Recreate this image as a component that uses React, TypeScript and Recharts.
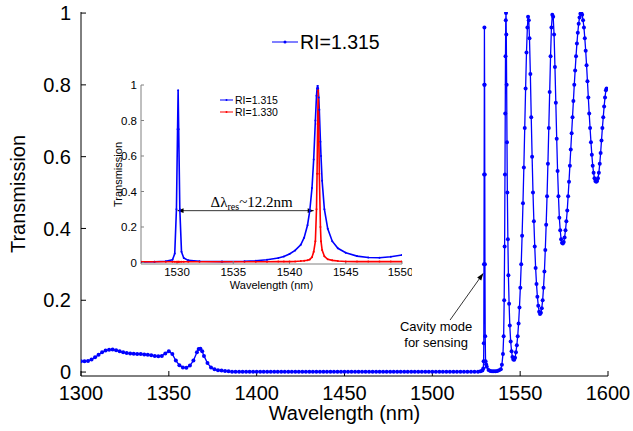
import React from "react";
import { LineChart, Line, XAxis, YAxis, Legend, ReferenceLine } from "recharts";

// main spectrum, RI = 1.315
const mainWavelength = [
  1300, 1302, 1304, 1306, 1308, 1310, 1312, 1314, 1316, 1318,
  1320, 1322, 1324, 1326, 1328, 1330, 1332, 1334, 1336, 1338,
  1340, 1342, 1344, 1346, 1348, 1350, 1352, 1354, 1356, 1358,
  1360, 1362, 1364, 1366, 1367, 1368, 1369, 1370, 1372, 1374,
  1376, 1378, 1380, 1382, 1384, 1386,
  1388, 1390, 1392, 1394, 1396, 1398, 1400, 1402, 1404, 1406,
  1408, 1410, 1412, 1414, 1416, 1418, 1420, 1422, 1424, 1426,
  1428, 1430, 1432, 1434, 1436, 1438, 1440, 1442, 1444, 1446,
  1448, 1450, 1452, 1454, 1456, 1458, 1460, 1462, 1464, 1466,
  1468, 1470, 1472, 1474, 1476, 1478, 1480, 1482, 1484, 1486,
  1488, 1490, 1492, 1494, 1496, 1498, 1500, 1502, 1504, 1506,
  1508, 1510, 1512, 1514, 1516, 1518, 1520, 1522, 1524, 1526,
  1527.5, 1528.5, 1529, 1529.2, 1529.3, 1529.4, 1529.5, 1529.6, 1529.65, 1529.75,
  1529.85, 1529.95, 1530.1, 1530.3, 1530.6, 1531, 1532, 1533, 1534, 1535,
  1536, 1537, 1538, 1539, 1539.6, 1540.2, 1540.6, 1540.9, 1541.15, 1541.35,
  1541.5, 1541.65, 1541.8, 1541.95, 1542.1, 1542.3, 1542.5, 1542.7, 1543, 1543.3,
  1543.7, 1544.1, 1544.6, 1545.1, 1545.6, 1546.1, 1546.6, 1547.1, 1547.6, 1548.1,
  1548.6, 1549.1, 1549.6, 1550.1, 1550.6, 1551.1, 1551.6, 1552.1, 1552.6, 1553.1,
  1553.6, 1554.1, 1554.5, 1554.9, 1555.3, 1555.8, 1556.3, 1556.8, 1557.3, 1557.8,
  1558.3, 1558.8, 1559.3, 1559.8, 1560.3, 1560.8, 1561.3, 1561.8, 1562.3, 1562.8,
  1563.3, 1563.8, 1564.3, 1564.8, 1565.3, 1565.8, 1566.3, 1566.8, 1567.3, 1567.8,
  1568.3, 1568.8, 1569.3, 1569.8, 1570.3, 1570.8, 1571.3, 1571.8, 1572.3, 1572.8,
  1573.3, 1573.8, 1574.3, 1574.8, 1575.3, 1575.8, 1576.3, 1576.8, 1577.3, 1577.8,
  1578.3, 1578.8, 1579.3, 1579.8, 1580.3, 1580.8, 1581.3, 1581.8, 1582.3, 1582.8,
  1583.3, 1583.8, 1584.3, 1584.8, 1585.3, 1585.8, 1586.3, 1586.8, 1587.3, 1587.8,
  1588.3, 1588.8, 1589.3, 1589.8, 1590.3, 1590.8, 1591.3, 1591.8, 1592.3, 1592.8,
  1593.3, 1593.8, 1594.3, 1594.8, 1595.3, 1595.8, 1596.3, 1596.8, 1597.3, 1597.8,
  1598.3, 1598.8, 1599.2,
];
const mainTransmission = [
  0.030, 0.030, 0.031, 0.035, 0.041, 0.048, 0.055, 0.060, 0.062, 0.063,
  0.061, 0.058, 0.055, 0.053, 0.052, 0.051, 0.050, 0.050, 0.049, 0.048,
  0.047, 0.045, 0.044, 0.045, 0.052, 0.058, 0.050, 0.032, 0.019, 0.013,
  0.012, 0.018, 0.032, 0.055, 0.064, 0.065, 0.058, 0.045, 0.025, 0.013,
  0.008, 0.005, 0.004, 0.003, 0.002, 0.001,
  0.001, 0.001, 0.001, 0.001, 0.001, 0.001, 0.001, 0.001, 0.001, 0.001,
  0.001, 0.001, 0.001, 0.001, 0.001, 0.001, 0.001, 0.001, 0.001, 0.001,
  0.001, 0.001, 0.001, 0.001, 0.001, 0.001, 0.001, 0.001, 0.001, 0.001,
  0.001, 0.001, 0.001, 0.001, 0.001, 0.001, 0.001, 0.001, 0.001, 0.001,
  0.001, 0.001, 0.001, 0.001, 0.001, 0.001, 0.001, 0.001, 0.001, 0.001,
  0.001, 0.001, 0.001, 0.001, 0.001, 0.001, 0.001, 0.001, 0.001, 0.001,
  0.001, 0.001, 0.001, 0.001, 0.001, 0.001, 0.001, 0.001, 0.001, 0.001,
  0.002, 0.004, 0.010, 0.030, 0.080, 0.300, 0.550, 0.800, 0.960, 0.800,
  0.550, 0.300, 0.100, 0.030, 0.022, 0.015, 0.006, 0.003, 0.002, 0.002,
  0.002, 0.003, 0.005, 0.008, 0.020, 0.050, 0.100, 0.200, 0.350, 0.550,
  0.720, 0.880, 0.980, 1.000, 0.940, 0.800, 0.640, 0.500, 0.370, 0.270,
  0.190, 0.130, 0.085, 0.058, 0.042, 0.035, 0.034, 0.040, 0.055, 0.075,
  0.100, 0.135, 0.180, 0.235, 0.300, 0.380, 0.470, 0.570, 0.680, 0.790,
  0.890, 0.960, 0.990, 0.980, 0.930, 0.830, 0.710, 0.600, 0.500, 0.420,
  0.350, 0.290, 0.245, 0.210, 0.185, 0.168, 0.162, 0.165, 0.178, 0.200,
  0.235, 0.280, 0.340, 0.410, 0.490, 0.580, 0.680, 0.780, 0.880, 0.960,
  0.995, 0.990, 0.940, 0.850, 0.750, 0.650, 0.560, 0.490, 0.430, 0.395,
  0.370, 0.360, 0.358, 0.362, 0.375, 0.395, 0.420, 0.450, 0.490, 0.530,
  0.575, 0.620, 0.665, 0.710, 0.755, 0.800, 0.840, 0.880, 0.915, 0.945,
  0.970, 0.988, 0.998, 1.000, 0.995, 0.980, 0.960, 0.930, 0.895, 0.855,
  0.810, 0.765, 0.720, 0.680, 0.640, 0.605, 0.575, 0.555, 0.540, 0.532,
  0.530, 0.532, 0.540, 0.555, 0.580, 0.610, 0.645, 0.680, 0.710, 0.740,
  0.765, 0.785, 0.790,
];

// inset, zoom around the sensing mode
const insetWavelength = [
  1526.8, 1528, 1529, 1529.6, 1529.8, 1529.95, 1530.05, 1530.1, 1530.15, 1530.25,
  1530.4, 1530.6, 1531, 1532, 1534, 1536, 1537, 1538, 1539, 1539.5,
  1540, 1540.5, 1541, 1541.3, 1541.6, 1541.8, 1542, 1542.15, 1542.3, 1542.4,
  1542.45, 1542.5, 1542.55, 1542.6, 1542.65, 1542.75, 1542.8, 1542.9, 1543.1, 1543.4,
  1543.8, 1544.3, 1545, 1546, 1547, 1548, 1549, 1550,
];
const insetRI1315 = [
  0.003, 0.004, 0.007, 0.015, 0.05, 0.3, 0.75, 0.97, 0.75, 0.3,
  0.06, 0.025, 0.012, 0.007, 0.005, 0.007, 0.01, 0.015, 0.025, 0.034,
  0.048, 0.068, 0.1, 0.14, 0.21, 0.29, 0.42, 0.58, 0.8, 0.94,
  0.98, 1.0, 0.98, 0.93, 0.86, 0.68, 0.6, 0.46, 0.3, 0.19,
  0.12, 0.08, 0.055, 0.036, 0.028, 0.027, 0.032, 0.042,
];
const insetRI1330 = [
  0.004, 0.004, 0.004, 0.004, 0.004, 0.004, 0.004, 0.004, 0.004, 0.004,
  0.004, 0.004, 0.004, 0.004, 0.004, 0.004, 0.004, 0.004, 0.005, 0.005,
  0.005, 0.006, 0.008, 0.01, 0.013, 0.017, 0.03, 0.06, 0.12, 0.3,
  0.5, 0.78, 0.97, 0.78, 0.5, 0.2, 0.12, 0.07, 0.035, 0.018,
  0.012, 0.008, 0.006, 0.005, 0.005, 0.005, 0.005, 0.005,
];

const mainTicksX = [1300, 1350, 1400, 1450, 1500, 1550, 1600];
const insetTicksX = [1530, 1535, 1540, 1545, 1550];
const ticksY = [0, 0.2, 0.4, 0.6, 0.8, 1];

const mainData = mainWavelength.map((wl, i) => ({ wl, t: mainTransmission[i] }));
const insetData = insetWavelength.map((wl, i) => ({
  wl,
  a: insetRI1315[i],
  b: insetRI1330[i],
}));

const BLUE = "#0000ff";
const RED = "#ff0000";
const SANS = "Arial, 'Liberation Sans', Helvetica, sans-serif";
const SERIF = "'Times New Roman', 'Liberation Serif', serif";

function head(x1: number, y1: number, x2: number, y2: number, len = 7, w = 2.5) {
  const a = Math.atan2(y2 - y1, x2 - x1);
  const bx = x2 - len * Math.cos(a);
  const by = y2 - len * Math.sin(a);
  const px = -Math.sin(a) * w;
  const py = Math.cos(a) * w;
  return `${x2},${y2} ${bx + px},${by + py} ${bx - px},${by - py}`;
}

const CavityArrow = (p: any) => {
  const { x1, y1, x2, y2 } = p;
  return (
    <g>
      <line x1={x1} y1={y1} x2={x2} y2={y2} stroke="#000" strokeWidth={0.8} />
      <polygon points={head(x1, y1, x2, y2)} fill="#000" />
      <text x={x1 - 14} y={y1 + 10.5} fontSize={13} fontFamily={SANS} textAnchor="middle" fill="#000">
        Cavity mode
      </text>
      <text x={x1 - 14} y={y1 + 27} fontSize={13} fontFamily={SANS} textAnchor="middle" fill="#000">
        for sensing
      </text>
    </g>
  );
};

const ShiftArrow = (p: any) => {
  const { x1, y1, x2, y2 } = p;
  return (
    <g>
      <line x1={x1} y1={y1} x2={x2} y2={y2} stroke="#000" strokeWidth={0.8} />
      <polygon points={head(x1, y1, x2, y2, 6, 2.3)} fill="#000" />
      <polygon points={head(x2, y2, x1, y1, 6, 2.3)} fill="#000" />
      <text x={x1 + 33} y={y1 - 4} fontSize={15} fontFamily={SERIF} fill="#000">
        <tspan>Δλ</tspan>
        <tspan fontSize={10} dy={3}>res</tspan>
        <tspan dy={-3}>~12.2nm</tspan>
      </text>
    </g>
  );
};

const MainLegend = () => (
  <svg width={120} height={30}>
    <line x1={4} y1={14} x2={30} y2={14} stroke={BLUE} strokeWidth={1} />
    <circle cx={17} cy={14} r={1.5} fill={BLUE} />
    <text x={32} y={21} fontSize={19.5} fontFamily={SANS} fill="#000">
      RI=1.315
    </text>
  </svg>
);

const InsetLegend = () => (
  <svg width={70} height={30}>
    <line x1={4} y1={8} x2={17} y2={8} stroke={BLUE} strokeWidth={1} />
    <circle cx={10.5} cy={8} r={1} fill={BLUE} />
    <text x={19} y={11.5} fontSize={10.5} fontFamily={SANS} fill="#000">RI=1.315</text>
    <line x1={4} y1={20} x2={17} y2={20} stroke={RED} strokeWidth={1} />
    <circle cx={10.5} cy={20} r={1} fill={RED} />
    <text x={19} y={23.5} fontSize={10.5} fontFamily={SANS} fill="#000">RI=1.330</text>
  </svg>
);

export default function App() {
  return (
    <div style={{ position: "absolute", left: 0, top: 0, width: 633, height: 431, background: "#fff" }}>
      <LineChart width={633} height={431} data={mainData} margin={{ top: 12, right: 25, bottom: 0, left: 0 }}>
        <XAxis
          dataKey="wl"
          type="number"
          domain={[1300, 1600]}
          ticks={mainTicksX}
          allowDataOverflow
          height={55}
          stroke="#000"
          tickSize={-5}
          tickMargin={15}
          tick={{ fontSize: 20, fill: "#000", fontFamily: SANS }}
          label={{ value: "Wavelength (nm)", position: "insideBottom", offset: 11, fontSize: 20, fill: "#000", fontFamily: SANS }}
        />
        <XAxis xAxisId="top" orientation="top" dataKey="wl" type="number" domain={[1300, 1600]} ticks={mainTicksX} height={0} tick={false} tickSize={-5} stroke="#000" />
        <YAxis
          type="number"
          domain={[-0.011, 1.003]}
          ticks={ticksY}
          allowDataOverflow
          width={81}
          stroke="#000"
          tickSize={-5}
          tickMargin={15}
          tick={{ fontSize: 20, fill: "#000", fontFamily: SANS }}
          label={{ value: "Transmission", angle: -90, position: "insideLeft", offset: 18, style: { textAnchor: "middle" }, fontSize: 20, fill: "#000", fontFamily: SANS }}
        />
        <YAxis yAxisId="right" orientation="right" type="number" domain={[-0.011, 1.003]} ticks={ticksY} width={0} tick={false} tickSize={-5} stroke="#000" />
        <Legend
          layout="horizontal"
          verticalAlign="middle"
          align="center"
          wrapperStyle={{ top: 28, left: 268, width: 120, height: 30 }}
          content={() => <MainLegend />}
        />
        <ReferenceLine
          segment={[{ x: 1510.1, y: 0.145 }, { x: 1529.0, y: 0.275 }]}
          shape={CavityArrow}
        />
        <Line
          dataKey="t"
          stroke={BLUE}
          strokeWidth={1.3}
          dot={{ r: 2, fill: BLUE, strokeWidth: 0 }}
          isAnimationActive={false}
        />
      </LineChart>

      <div style={{ position: "absolute", left: 100, top: 75 }}>
        <LineChart width={312} height={219} data={insetData} margin={{ top: 10, right: 10, bottom: 0, left: 0 }}>
          <XAxis
            dataKey="wl"
            type="number"
            domain={[1526.8, 1550]}
            ticks={insetTicksX}
            allowDataOverflow
            height={30}
            stroke="#808080"
            tickSize={-3}
            tickMargin={7}
            tick={{ fontSize: 11.5, fill: "#000", fontFamily: SANS }}
            label={{ value: "Wavelength (nm)", position: "insideBottom", offset: 5.5, fontSize: 11, fill: "#000", fontFamily: SANS }}
          />
          <XAxis xAxisId="top" orientation="top" dataKey="wl" type="number" domain={[1526.8, 1550]} ticks={insetTicksX} height={0} tick={false} tickSize={-3} stroke="#808080" />
          <YAxis
            type="number"
            domain={[-0.0085, 1]}
            ticks={ticksY}
            allowDataOverflow
            width={41}
            stroke="#808080"
            tickSize={-3}
            tickMargin={7}
            tick={{ fontSize: 11.5, fill: "#000", fontFamily: SANS }}
            label={{ value: "Transmission", angle: -90, position: "insideLeft", offset: 18, style: { textAnchor: "middle" }, fontSize: 11, fill: "#000", fontFamily: SANS }}
          />
          <YAxis yAxisId="right" orientation="right" type="number" domain={[-0.0085, 1]} ticks={ticksY} width={0} tick={false} tickSize={-3} stroke="#808080" />
          <Legend
            layout="horizontal"
            verticalAlign="middle"
            align="center"
            wrapperStyle={{ top: 17, left: 116, width: 70, height: 30 }}
            content={() => <InsetLegend />}
          />
          <ReferenceLine
            segment={[{ x: 1530.05, y: 0.292 }, { x: 1542.15, y: 0.292 }]}
            shape={ShiftArrow}
          />
          <Line dataKey="a" stroke={BLUE} strokeWidth={1.6} dot={{ r: 1, fill: BLUE, strokeWidth: 0 }} isAnimationActive={false} />
          <Line dataKey="b" stroke={RED} strokeWidth={1.6} dot={{ r: 1, fill: RED, strokeWidth: 0 }} isAnimationActive={false} />
        </LineChart>
      </div>
    </div>
  );
}
